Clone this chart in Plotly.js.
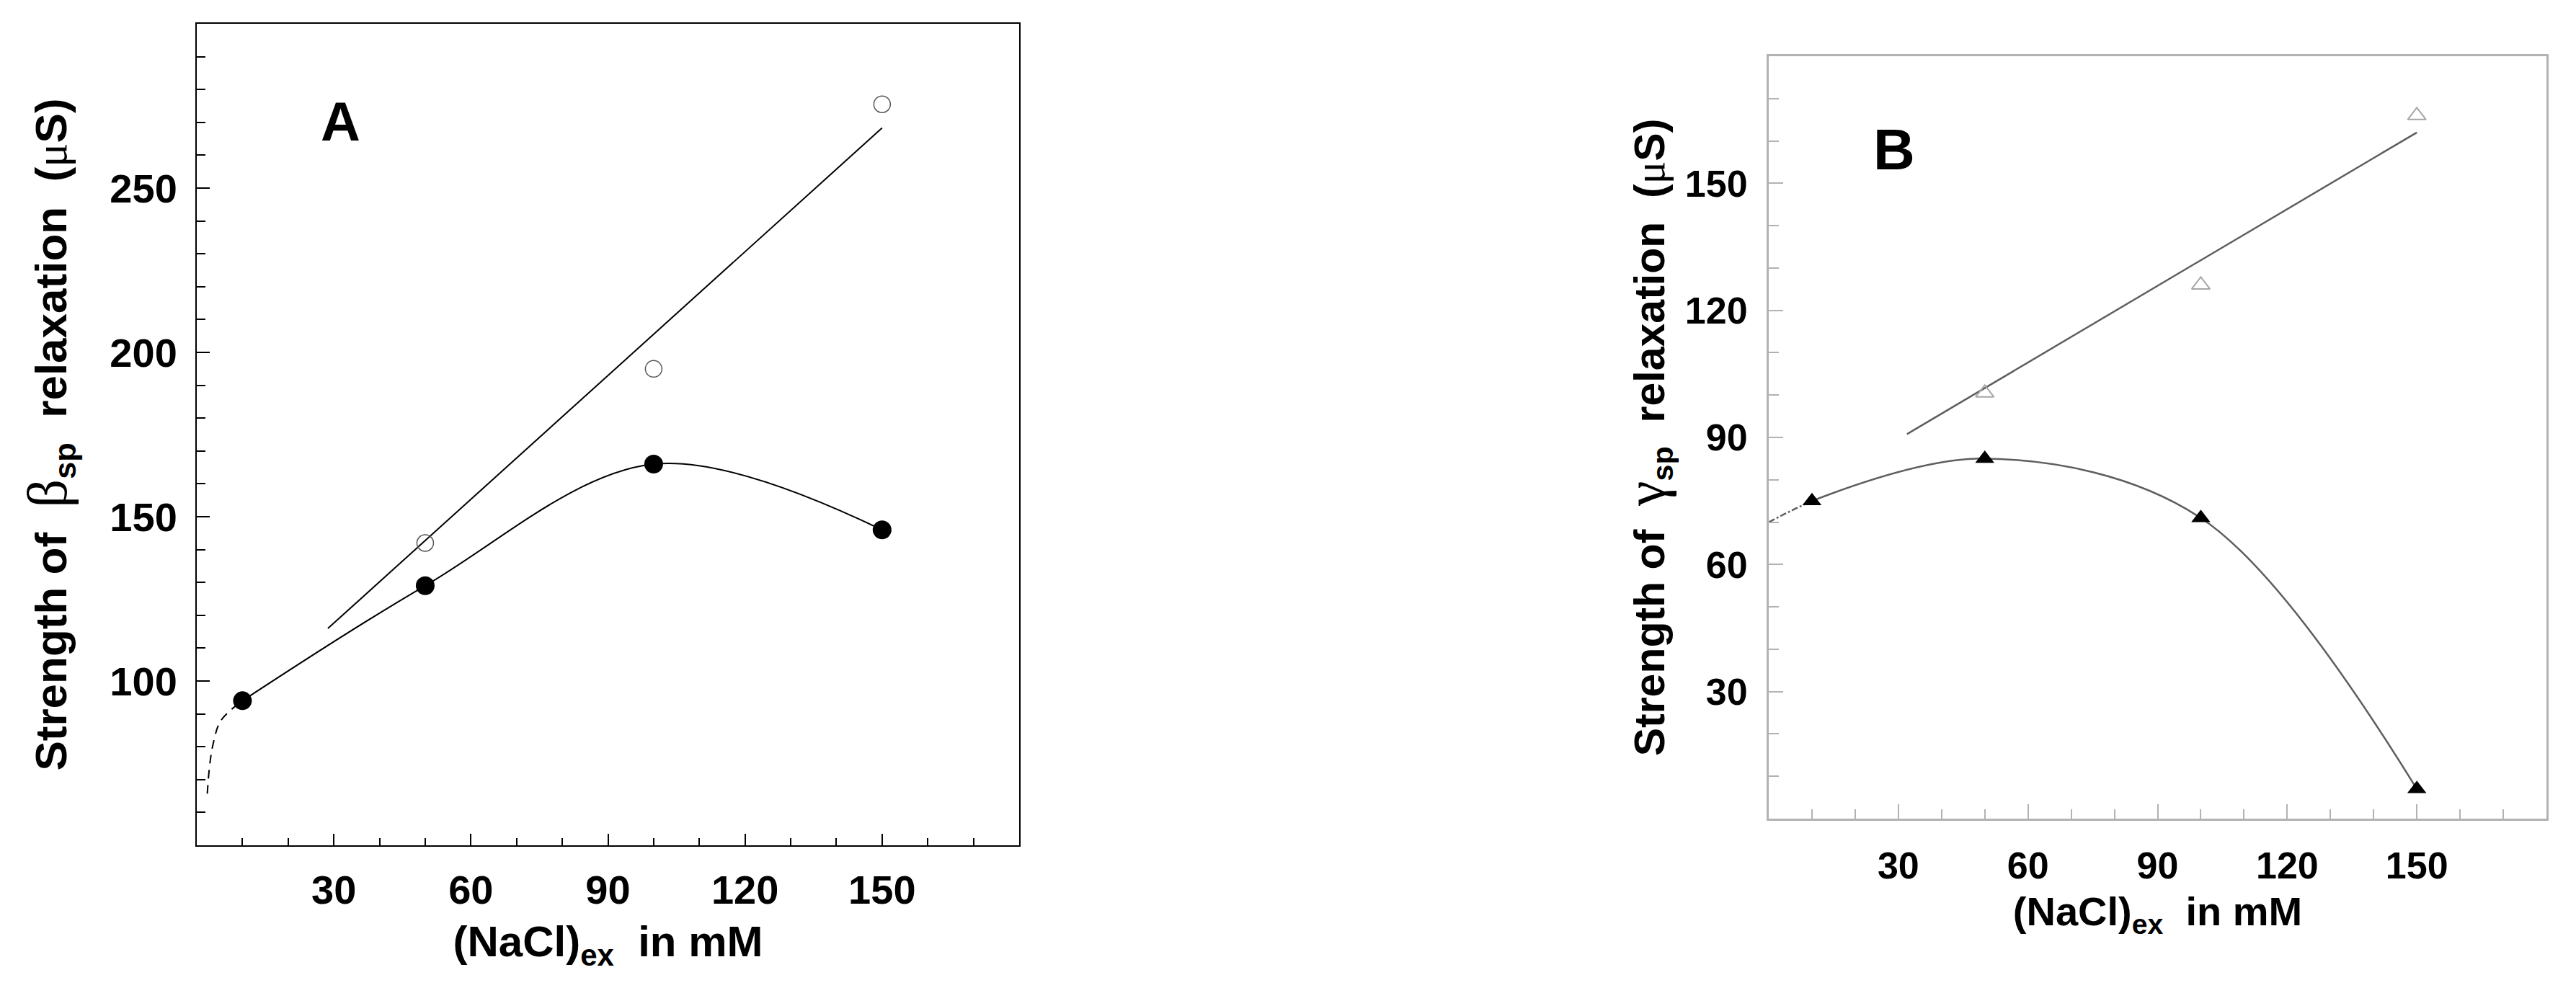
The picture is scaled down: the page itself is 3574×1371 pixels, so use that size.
<!DOCTYPE html>
<html>
<head>
<meta charset="utf-8">
<script src="https://cdn.plot.ly/plotly-3.0.1.min.js"></script>
<style>
  html, body { margin: 0; padding: 0; background: #fff; }
  #grafico { width: 3574px; height: 1371px; }
</style>
</head>
<body>
<div id="grafico"></div>
<script>
// ---------------------------------------------------------------------
// DATOS
// ---------------------------------------------------------------------
const naclLleno = [10, 50, 100, 150];
const naclAbierto = [50, 100, 150];

// Panel A: fuerza de la relajacion beta_sp
const betaLleno = [94, 129, 166, 146];
const betaAbierto = [142, 195, 275.5];
const ajusteBetaX = [28.7, 150];
const ajusteBetaY = [116, 268.3];
const extBetaX = [2.3, 2.8, 3.6, 5.3, 10];
const extBetaY = [65.7, 74, 81, 88, 94];

// Panel B: fuerza de la relajacion gamma_sp
const gammaLleno = [75, 85, 71, 7];
const gammaAbierto = [100.5, 126, 166];
const ajusteGammaX = [32, 150];
const ajusteGammaY = [90.8, 162];
const extGammaX = [0, 5, 10];
const extGammaY = [70, 72.6, 75];

// Ticks
const ticksX = [30, 60, 90, 120, 150];
const ticksYA = [100, 150, 200, 250];
const ticksYB = [30, 60, 90, 120, 150];

// ---------------------------------------------------------------------
// ESTILOS
// ---------------------------------------------------------------------
const FUENTE = "Liberation Sans, Arial, sans-serif";
const GRIEGA = "font-family:'Liberation Serif',serif;font-weight:normal";
const GRIEGA_GRANDE = GRIEGA + ";font-size:78px";
const ESP = "\u00a0";
const GRIS_B = "#5e5e5e";
const GRIS_EJE_B = "#b2b2b2";

function ejeBase(opciones) {
  return Object.assign({
    showgrid: false,
    zeroline: false,
    showline: true,
    mirror: true,
    ticks: "inside",
    tickfont: { family: FUENTE, size: 56, color: "#000", weight: "bold" },
  }, opciones);
}

function tituloY(letra) {
  return `Strength of ${ESP}<span style="${GRIEGA_GRANDE}">${letra}</span><sub>sp</sub>${ESP}${ESP}relaxation${ESP}${ESP}(<span style="${GRIEGA}">μ</span>S)`;
}

// ---------------------------------------------------------------------
// TRAZAS PANEL A
// ---------------------------------------------------------------------
const trazaExtBeta = {
  x: extBetaX, y: extBetaY, xaxis: "x", yaxis: "y",
  type: "scatter", mode: "lines",
  line: { color: "#000", width: 2, dash: "12px,9px", shape: "spline" },
};
const trazaCurvaBeta = {
  x: naclLleno, y: betaLleno, xaxis: "x", yaxis: "y",
  type: "scatter", mode: "lines",
  line: { color: "#000", width: 2, shape: "spline", smoothing: 1 },
};
const trazaAjusteBeta = {
  x: ajusteBetaX, y: ajusteBetaY, xaxis: "x", yaxis: "y",
  type: "scatter", mode: "lines",
  line: { color: "#000", width: 2 },
};
const trazaBetaAbierto = {
  x: naclAbierto, y: betaAbierto, xaxis: "x", yaxis: "y",
  type: "scatter", mode: "markers",
  marker: { symbol: "circle-open", size: 23, color: "#555", line: { width: 1.5, color: "#555" } },
};
const trazaBetaLleno = {
  x: naclLleno, y: betaLleno, xaxis: "x", yaxis: "y",
  type: "scatter", mode: "markers",
  marker: { symbol: "circle", size: 26, color: "#000" },
};

// ---------------------------------------------------------------------
// TRAZAS PANEL B
// ---------------------------------------------------------------------
const trazaExtGamma = {
  x: extGammaX, y: extGammaY, xaxis: "x2", yaxis: "y2",
  type: "scatter", mode: "lines",
  line: { color: GRIS_B, width: 2.5, dash: "dashdot", shape: "spline" },
};
const trazaCurvaGamma = {
  x: naclLleno, y: gammaLleno, xaxis: "x2", yaxis: "y2",
  type: "scatter", mode: "lines",
  line: { color: GRIS_B, width: 2.5, shape: "spline", smoothing: 1 },
};
const trazaAjusteGamma = {
  x: ajusteGammaX, y: ajusteGammaY, xaxis: "x2", yaxis: "y2",
  type: "scatter", mode: "lines",
  line: { color: GRIS_B, width: 2.5 },
};
const trazaGammaAbierto = {
  x: naclAbierto, y: gammaAbierto, xaxis: "x2", yaxis: "y2",
  type: "scatter", mode: "markers",
  marker: { symbol: "triangle-up-open", size: 22, color: "#a6a6a6", line: { width: 2, color: "#a6a6a6" } },
};
const trazaGammaLleno = {
  x: naclLleno, y: gammaLleno, xaxis: "x2", yaxis: "y2",
  type: "scatter", mode: "markers",
  marker: { symbol: "triangle-up", size: 23, color: "#000" },
};

// ---------------------------------------------------------------------
// LAYOUT
// ---------------------------------------------------------------------
const tituloX = `(NaCl)<sub>ex</sub>${ESP}${ESP}in mM`;

const layout = {
  width: 3574,
  height: 1371,
  margin: { l: 0, r: 0, t: 0, b: 0 },
  paper_bgcolor: "#fff",
  plot_bgcolor: "#fff",
  showlegend: false,
  font: { family: FUENTE, color: "#000" },

  xaxis: ejeBase({
    anchor: "y",
    domain: [273 / 3574, 1414 / 3574],
    range: [0, 180],
    tickmode: "array", tickvals: ticksX,
    ticklen: 16, tickwidth: 2, tickcolor: "#000",
    minor: { dtick: 10, tick0: 0, ticks: "inside", ticklen: 10, tickwidth: 2, tickcolor: "#000" },
    linewidth: 2, linecolor: "#000",
    ticklabelstandoff: 12,
    title: { text: tituloX, font: { family: FUENTE, size: 60, weight: "bold" }, standoff: 20 },
  }),
  yaxis: ejeBase({
    anchor: "x",
    domain: [1 - 1173 / 1371, 1 - 33 / 1371],
    range: [50, 300],
    tickmode: "array", tickvals: ticksYA,
    ticklen: 18, tickwidth: 2, tickcolor: "#000",
    minor: { dtick: 10, tick0: 0, ticks: "inside", ticklen: 12, tickwidth: 2, tickcolor: "#000" },
    linewidth: 2, linecolor: "#000",
    ticklabelstandoff: 14,
    title: { text: tituloY("β"), font: { family: FUENTE, size: 62, weight: "bold" }, standoff: 40 },
  }),

  xaxis2: ejeBase({
    anchor: "y2",
    domain: [2454 / 3574, 3533 / 3574],
    range: [0, 180],
    tickmode: "array", tickvals: ticksX,
    ticklen: 20, tickwidth: 2, tickcolor: GRIS_EJE_B,
    minor: { dtick: 10, tick0: 0, ticks: "inside", ticklen: 13, tickwidth: 2, tickcolor: GRIS_EJE_B },
    linewidth: 3, linecolor: GRIS_EJE_B,
    tickfont: { family: FUENTE, size: 52, color: "#000", weight: "bold" },
    ticklabelstandoff: 18,
    title: { text: tituloX, font: { family: FUENTE, size: 56, weight: "bold" }, standoff: 16 },
  }),
  yaxis2: ejeBase({
    anchor: "x2",
    domain: [1 - 1136 / 1371, 1 - 78 / 1371],
    range: [0, 180],
    tickmode: "array", tickvals: ticksYB,
    ticklen: 20, tickwidth: 2, tickcolor: GRIS_EJE_B,
    minor: { dtick: 10, tick0: 0, ticks: "inside", ticklen: 14, tickwidth: 2, tickcolor: GRIS_EJE_B },
    linewidth: 3, linecolor: GRIS_EJE_B,
    tickfont: { family: FUENTE, size: 52, color: "#000", weight: "bold" },
    ticklabelstandoff: 16,
    title: { text: tituloY("γ"), font: { family: FUENTE, size: 59, weight: "bold" }, standoff: 10 },
  }),

  annotations: [
    { text: "A", x: 31.5, y: 270.3, xref: "x", yref: "y", showarrow: false,
      font: { family: FUENTE, size: 76, color: "#000", weight: "bold" } },
    { text: "B", x: 29, y: 158, xref: "x2", yref: "y2", showarrow: false,
      font: { family: FUENTE, size: 80, color: "#000", weight: "bold" } },
  ],
};

Plotly.newPlot("grafico", [
  trazaExtBeta, trazaCurvaBeta, trazaAjusteBeta, trazaBetaAbierto, trazaBetaLleno,
  trazaExtGamma, trazaCurvaGamma, trazaAjusteGamma, trazaGammaAbierto, trazaGammaLleno,
], layout, { staticPlot: true, displayModeBar: false });
</script>
</body>
</html>
